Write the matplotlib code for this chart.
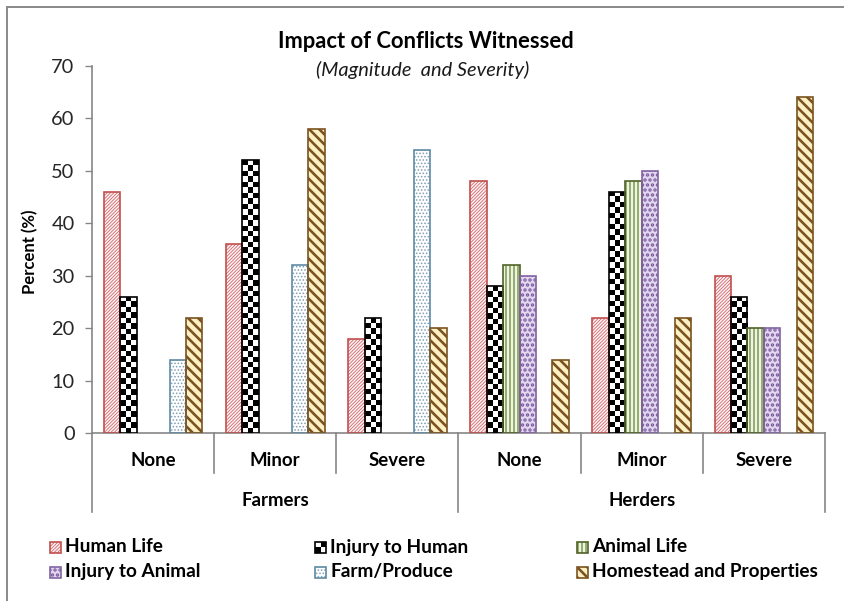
import numpy as np
import matplotlib
matplotlib.use('Agg')
import matplotlib.pyplot as plt
from matplotlib.patches import Rectangle
from matplotlib.lines import Line2D
from matplotlib.colors import ListedColormap
import matplotlib.transforms as mtransforms

# ---------------- data ----------------
groups = ['Farmers', 'Herders']
levels = ['None', 'Minor', 'Severe']
series = ['Human Life', 'Injury to Human', 'Animal Life',
          'Injury to Animal', 'Farm/Produce', 'Homestead and Properties']
human_life = [46, 36, 18, 48, 22, 30]
injury_to_human = [26, 52, 22, 28, 46, 26]
animal_life = [0, 0, 0, 32, 48, 20]
injury_to_animal = [0, 0, 0, 30, 50, 20]
farm_produce = [14, 32, 54, 0, 0, 0]
homestead = [22, 58, 20, 14, 22, 64]
y_ticks = [0, 10, 20, 30, 40, 50, 60, 70]
title = 'Impact of Conflicts Witnessed'
subtitle = '(Magnitude  and Severity)'
y_label = 'Percent (%)'

values = [human_life, injury_to_human, animal_life,
          injury_to_animal, farm_produce, homestead]

# ---------------- styles ----------------
styles = [
    dict(bg='#fff5f5', hatch='/' * 12, hc='#d0646a', edge='#c0504d', hlw=0.5),
    dict(bg='white', hatch=None, hc='black', edge='black', hlw=1.0, checker=True),
    dict(bg='#eef3e2', hatch='|||||', hc='#6e8b3d', edge='#4f6228', hlw=0.8),
    dict(bg='#e3d7ef', hatch='....', hc='#7a5a9e', edge='#8064a2', hlw=1.4),
    dict(bg='white', hatch='......', hc='#7f9fb4', edge='#5f8aa3', hlw=0.6),
    dict(bg='#fdf0c4', hatch='\\' * 4, hc='#7a5320', edge='#7a5320', hlw=1.55),
]

DPI = 120
W, H = 844, 601
plt.rcParams['font.family'] = ['Lato', 'DejaVu Sans']
fig = plt.figure(figsize=(W / DPI, H / DPI), dpi=DPI)
fig.patch.set_facecolor('white')

ax_left, ax_right, ax_top, ax_bottom = 92, 825, 66, 433
ax = fig.add_axes([ax_left / W, (H - ax_bottom) / H,
                   (ax_right - ax_left) / W, (ax_bottom - ax_top) / H])
ax.set_xlim(-0.5, 5.5)
ax.set_ylim(0, 70)

x = np.arange(len(human_life))
bw = 0.1344
checker_cmap = ListedColormap(['white', 'black'])


def set_hlw(p, lw):
    if hasattr(p, 'set_hatch_linewidth'):
        p.set_hatch_linewidth(lw)


for i, (vals, st) in enumerate(zip(values, styles)):
    pos = x + (i - 2.5) * bw
    fill = ax.bar(pos, vals, bw, color=st['bg'], edgecolor=st['hc'],
                  hatch=st['hatch'], linewidth=0, zorder=2)
    edge = ax.bar(pos, vals, bw, fill=False, edgecolor=st['edge'],
                  linewidth=1.0, zorder=4)
    for pf, pe, v in zip(fill, edge, vals):
        set_hlw(pf, st['hlw'])
        if v == 0:
            pf.set_visible(False)
            pe.set_visible(False)
            continue
        if st.get('checker'):
            x0, w_ = pf.get_x(), pf.get_width()
            h_ = pf.get_height()
            p0 = ax.transData.transform((x0, 0))
            p1 = ax.transData.transform((x0 + w_, h_))
            cols = 3
            cell = (p1[0] - p0[0]) / cols
            rows = max(1, int(round((p1[1] - p0[1]) / cell)))
            arr = np.indices((rows, cols)).sum(axis=0) % 2
            im = ax.imshow(arr[::-1], cmap=checker_cmap, vmin=0, vmax=1,
                           extent=[x0, x0 + w_, 0, h_], aspect='auto',
                           interpolation='nearest', origin='upper', zorder=3)
            im.set_clip_path(pf)

ax.set_xlim(-0.5, 5.5)
ax.set_ylim(0, 70)
ax.set_aspect('auto')

# axes styling
axis_grey = '#868686'
for s in ['top', 'right']:
    ax.spines[s].set_visible(False)
for s in ['left', 'bottom']:
    ax.spines[s].set_color(axis_grey)
    ax.spines[s].set_linewidth(1.0)
ax.set_xticks([])
ax.set_yticks(y_ticks)
ax.tick_params(axis='y', direction='out', length=4.5, width=0.8,
               color=axis_grey, labelsize=12, pad=6, labelcolor='#262626')

# multi-level category axis
blend = mtransforms.blended_transform_factory(ax.transData, ax.transAxes)
plot_h = ax_bottom - ax_top
inner_y = -(473 - ax_bottom) / plot_h
outer_y = -(512 - ax_bottom) / plot_h
bounds = np.arange(-0.5, 6.0, 1.0)
for j, b in enumerate(bounds):
    yy = outer_y if j % 3 == 0 else inner_y
    ax.add_line(Line2D([b, b], [0, yy], transform=blend, color=axis_grey,
                       lw=1.0, clip_on=False))

lvl_y = -(460 - ax_bottom) / plot_h
grp_y = -(500 - ax_bottom) / plot_h
for k in range(len(x)):
    ax.text(x[k], lvl_y, levels[k % 3], transform=blend, ha='center',
            va='center', fontsize=11.2, fontweight='bold', color='black')
for g, name in enumerate(groups):
    ax.text(x[g * 3 + 1], grp_y, name, transform=blend, ha='center',
            va='center', fontsize=11.2, fontweight='bold', color='black')

# titles
fig.text(426 / W, 1 - 42 / H, title, ha='center', va='center',
         fontsize=13.2, fontweight='bold', color='black')
fig.text(423 / W, 1 - 70 / H, subtitle, ha='center', va='center',
         fontsize=12, fontstyle='italic', color='#1a1a1a')
fig.text(30 / W, 1 - 252 / H, y_label, rotation=90, ha='center',
         va='center', fontsize=10, fontweight='bold', color='black')

# legend (row-major, three columns)
col_x = [50, 315, 577]
row_y = [547, 572]
msz = 11
for i, (name, st) in enumerate(zip(series, styles)):
    r, c = divmod(i, 3)
    mx, my = col_x[c], row_y[r]
    fx, fy, fw, fh = mx / W, 1 - (my + msz / 2) / H, msz / W, msz / H
    if st.get('checker'):
        for a in range(2):
            for b in range(2):
                fig.patches.append(Rectangle(
                    (fx + a * fw / 2, fy + b * fh / 2), fw / 2, fh / 2,
                    transform=fig.transFigure,
                    facecolor='black' if (a + b) % 2 == 0 else 'white',
                    edgecolor='none'))
    else:
        p = Rectangle((fx, fy), fw, fh, transform=fig.transFigure,
                      facecolor=st['bg'], edgecolor=st['hc'],
                      hatch=st['hatch'], linewidth=0)
        set_hlw(p, st['hlw'])
        fig.patches.append(p)
    fig.patches.append(Rectangle((fx, fy), fw, fh, transform=fig.transFigure,
                                 fill=False, edgecolor=st['edge'], linewidth=1.0))
    fig.text((mx + msz + 4) / W, 1 - my / H, name, ha='left', va='center',
             fontsize=11.4, fontweight='bold', color='black')

# chart border (top and left visible)
border = '#8c8c8c'
fig.add_artist(Line2D([7 / W, 1], [1 - 7 / H, 1 - 7 / H],
                      transform=fig.transFigure, color=border, lw=1.2))
fig.add_artist(Line2D([7 / W, 7 / W], [0, 1 - 7 / H],
                      transform=fig.transFigure, color=border, lw=1.2))

fig.savefig('out.png', dpi=DPI, facecolor='white')
